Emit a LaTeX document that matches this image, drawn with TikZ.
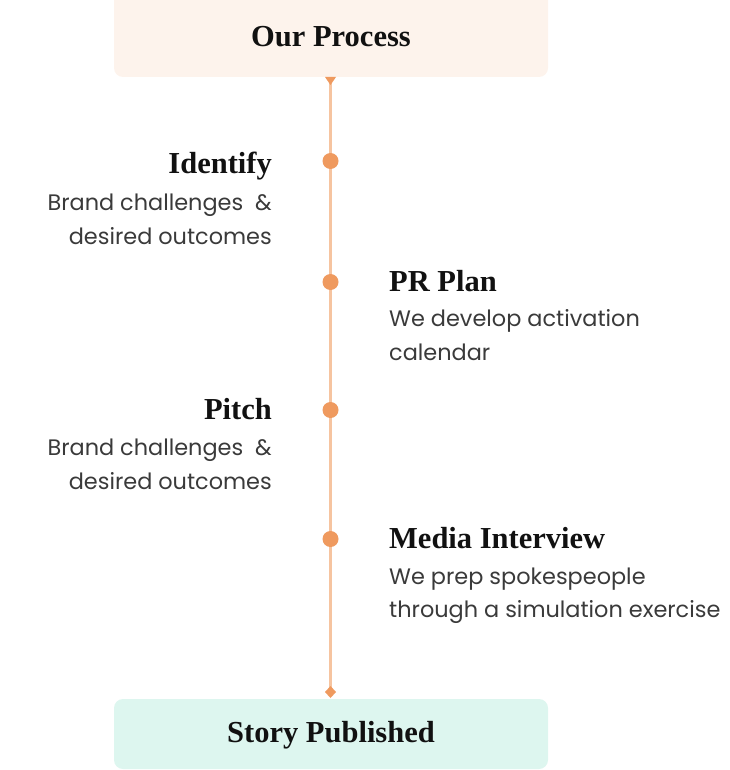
\documentclass[tikz,border=0pt]{standalone}
\usepackage{fontspec}
\setmainfont{Poppins}
\newfontfamily\headfont{Liberation Serif}
\usetikzlibrary{shapes.geometric}
\definecolor{peach}{HTML}{FDF3EC}
\definecolor{mint}{HTML}{DDF6EF}
\definecolor{linecol}{HTML}{F6C4A0}
\definecolor{dotcol}{HTML}{EF9A5F}
\definecolor{bodycol}{HTML}{3A3A3A}
\definecolor{headcol}{HTML}{111111}
\tikzset{
  x=1pt, y=-1pt,
  title/.style={font=\headfont\bfseries\fontsize{30.5}{34}\selectfont, text=headcol, inner sep=0pt},
  stephead/.style={font=\headfont\bfseries\fontsize{30.5}{34}\selectfont, text=headcol, inner sep=0pt},
  stepbody/.style={font=\fontsize{22.4}{34}\selectfont, text=bodycol, inner sep=0pt},
  dotnode/.style={circle, fill=dotcol, minimum size=16pt, inner sep=0pt},
  spine/.style={draw=linecol, line width=3pt},
}
\begin{document}
\begin{tikzpicture}
\useasboundingbox (0,0) rectangle (729,770);
% boxes
\fill[peach, rounded corners=9pt] (114,-10) rectangle (548,77);
\fill[mint, rounded corners=9pt] (114,699) rectangle (548,769);
\node[title, anchor=base] (top) at (331,47) {Our Process};
\node[title, anchor=base] (bottom) at (331,742) {Story Published};
\coordinate (topend) at (330.5,77);
\coordinate (botend) at (330.5,692);
% spine
\draw[spine] (topend) -- (botend);
\fill[dotcol] (325,77) -- (336,77) -- (330.5,85) -- cycle;
\fill[dotcol] (330.5,686) -- (336,692) -- (330.5,698) -- (325,692) -- cycle;
% dots
\node[dotnode] (d1) at (330.5,161) {};
\node[dotnode] (d2) at (330.5,282) {};
\node[dotnode] (d3) at (330.5,410) {};
\node[dotnode] (d4) at (330.5,539) {};
% texts
\node[stephead, anchor=base east] (h1) at (272,173) {Identify};
\node[stepbody, anchor=base east] (b1a) at (272,210) {Brand challenges\ \ \&};
\node[stepbody, anchor=base east] (b1b) at (272,244) {desired outcomes};
\node[stephead, anchor=base west] (h2) at (389,291) {PR Plan};
\node[stepbody, anchor=base west] (b2a) at (389,326) {We develop activation};
\node[stepbody, anchor=base west] (b2b) at (389,360) {calendar};
\node[stephead, anchor=base east] (h3) at (272,419) {Pitch};
\node[stepbody, anchor=base east] (b3a) at (272,455) {Brand challenges\ \ \&};
\node[stepbody, anchor=base east] (b3b) at (272,489) {desired outcomes};
\node[stephead, anchor=base west] (h4) at (389,548) {Media Interview};
\node[stepbody, anchor=base west] (b4a) at (389,584) {We prep spokespeople};
\node[stepbody, anchor=base west] (b4b) at (389,617) {through a simulation exercise};
\end{tikzpicture}
\end{document}
